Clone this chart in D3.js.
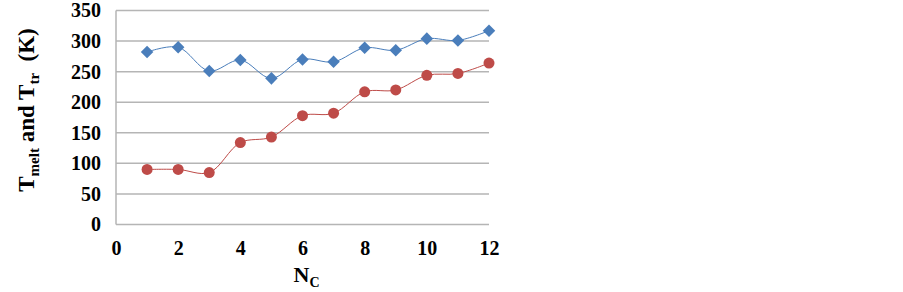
<!DOCTYPE html>
<html>
<head>
<meta charset="utf-8">
<script src="https://cdn.jsdelivr.net/npm/d3@7"></script>
<style>
  body { margin: 0; background: #fff; }
  svg text { font-family: "Times New Roman", "Liberation Serif", "DejaVu Serif", serif !important; font-weight: bold; }
</style>
</head>
<body>
<div id="chart"></div>
<script>
const width = 903,
    height = 292

// N_C values
const nc = [1, 2, 3, 4, 5, 6, 7, 8, 9, 10, 11, 12]
// blue diamonds and red circles
const tMelt = [282, 290, 251, 269, 239, 270, 266, 289, 285, 304, 301, 317]
const tTr = [90, 90, 85, 134, 143, 178, 182, 217, 220, 244, 247, 264]

const xTicks = [0, 2, 4, 6, 8, 10, 12]
const yTicks = [0, 50, 100, 150, 200, 250, 300, 350]

const colors = {
    blue: "#4a7ebb",
    red: "#be4b48",
    grid: "#b5b5b5"
}

const margin = { left: 116, right: 414, top: 10.5, bottom: 67.5 }

const svg = d3.select("#chart")
    .append("svg")
        .attr("width", width)
        .attr("height", height)

const x = d3.scaleLinear()
    .domain([0, 12])
    .range([margin.left, width - margin.right])

const y = d3.scaleLinear()
    .domain([0, 350])
    .range([height - margin.bottom, margin.top])

// gridlines
svg.append("g")
    .selectAll("line")
    .data(yTicks.filter(d => d > 0))
    .enter()
    .append("line")
        .attr("x1", x(0))
        .attr("x2", x(12))
        .attr("y1", d => y(d))
        .attr("y2", d => y(d))
        .attr("stroke", colors.grid)
        .attr("stroke-width", 1.5)

// axis lines
svg.append("line")
    .attr("x1", x(0)).attr("x2", x(0))
    .attr("y1", y(0)).attr("y2", y(350))
    .attr("stroke", colors.grid).attr("stroke-width", 1.5)
svg.append("line")
    .attr("x1", x(0)).attr("x2", x(12))
    .attr("y1", y(0)).attr("y2", y(0))
    .attr("stroke", colors.grid).attr("stroke-width", 1.5)

// tick labels
const yAxis = svg.append("g")
    .attr("transform", `translate(${x(0)},0)`)
    .call(d3.axisLeft(y).tickValues(yTicks).tickSize(0).tickPadding(15))
yAxis.select(".domain").remove()
yAxis.selectAll("text")
    .attr("font-size", 20)
    .attr("fill", "#000")

const xAxis = svg.append("g")
    .attr("transform", `translate(0,${y(0)})`)
    .call(d3.axisBottom(x).tickValues(xTicks).tickSize(0).tickPadding(16))
xAxis.select(".domain").remove()
xAxis.selectAll("text")
    .attr("font-size", 20)
    .attr("fill", "#000")

// series
const line = (vals) => d3.line()
    .x((d, i) => x(nc[i]))
    .y(d => y(d))
    .curve(d3.curveCatmullRom.alpha(0.5))(vals)

svg.append("path")
    .attr("d", line(tMelt))
    .attr("fill", "none")
    .attr("stroke", colors.blue)
    .attr("stroke-width", 1)

svg.append("path")
    .attr("d", line(tTr))
    .attr("fill", "none")
    .attr("stroke", colors.red)
    .attr("stroke-width", 1)

svg.append("g")
    .selectAll("path")
    .data(tMelt)
    .enter()
    .append("path")
        .attr("d", d3.symbol(d3.symbolDiamond2, 100)())
        .attr("transform", (d, i) => `translate(${x(nc[i])},${y(d)})`)
        .attr("fill", colors.blue)

svg.append("g")
    .selectAll("circle")
    .data(tTr)
    .enter()
    .append("circle")
        .attr("cx", (d, i) => x(nc[i]))
        .attr("cy", d => y(d))
        .attr("r", 5.5)
        .attr("fill", colors.red)

// axis titles
const yTitle = svg.append("text")
    .attr("transform", `translate(34,${110}) rotate(-90)`)
    .attr("text-anchor", "middle")
    .attr("font-size", 23)
yTitle.append("tspan").text("T")
yTitle.append("tspan").attr("font-size", 15).attr("dy", 5).text("melt")
yTitle.append("tspan").attr("dy", -5).text(" and T")
yTitle.append("tspan").attr("font-size", 15).attr("dy", 5).text("tr")
yTitle.append("tspan").attr("dy", -5).attr("xml:space", "preserve").text("  (K)")

const xTitle = svg.append("text")
    .attr("x", x(6) - 9)
    .attr("y", 282)
    .attr("font-size", 22)
xTitle.append("tspan").text("N")
xTitle.append("tspan").attr("font-size", 14).attr("dy", 5).text("C")
</script>
</body>
</html>
